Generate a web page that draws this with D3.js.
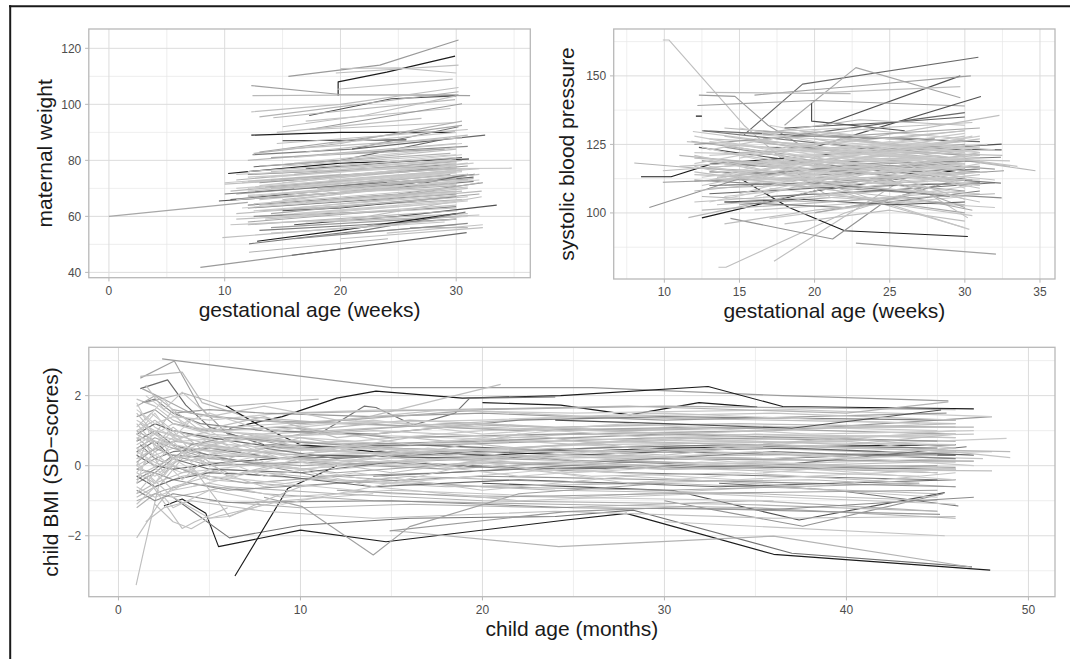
<!DOCTYPE html>
<html>
<head>
<meta charset="utf-8">
<script src="https://cdn.jsdelivr.net/npm/d3@7"></script>
<style>
  body { margin: 0; background: #fff; }
  text { font-family: "Liberation Sans", Arial, sans-serif; }
</style>
</head>
<body>
<svg id="fig" width="1070" height="659"></svg>
<script>
// ---- data: each trajectory = tone (group level, 0 dark .. 1 light) + flat list of x,y pairs ----
const weightXTicks = [0, 10, 20, 30];
const weightYTicks = [40, 60, 80, 100, 120];
const weightLines = [
  {g:.5, v:[15.5,110, 23.4,114, 30.2,123]},
  {g:0, v:[19.8,103, 19.8,108, 24,111.5, 29.9,117.2]},
  {g:.8, v:[19.6,111.2, 30.2,114]},
  {g:.85, v:[20,112.8, 25,113, 30,111.2]},
  {g:.55, v:[12.3,106.7, 20,103.5, 31.2,103.1]},
  {g:.75, v:[12.4,103.1, 30.2,103.5]},
  {g:.8, v:[19.7,105.4, 29.7,109]},
  {g:.8, v:[12.3,97.3, 20,100, 30.2,106]},
  {g:.1, v:[17.3,96, 24.4,102, 30,103]},
  {g:.75, v:[14.2,95.2, 29.9,101.7]},
  {g:.8, v:[15,92, 22,96, 30,103]},
  {g:.7, v:[13,95.5, 30.2,104.5]},
  {g:.85, v:[17,94, 29.5,98.5]},
  {g:.5, v:[17.3,91, 30.5,100.2]},
  {g:.8, v:[14.5,90, 27,95]},
  {g:0, v:[12.3,89, 20,90, 29.9,90]},
  {g:.05, v:[15,87, 25.7,87.3]},
  {g:.8, v:[17.5,91, 30,93.5]},
  {g:.7, v:[12.5,82.5, 20,86, 30.5,94]},
  {g:.3, v:[12.4,82, 21,84, 30.2,92]},
  {g:.6, v:[13,83, 30.5,92.5]},
  {g:.8, v:[14.5,86, 31,91]},
  {g:.2, v:[12.5,77.7, 20,80, 29.5,88]},
  {g:0, v:[10.3,75.3, 20,79, 31.1,80.5]},
  {g:.2, v:[21,84, 32.5,89]},
  {g:.4, v:[18,82, 31,85]},
  {g:.75, v:[12,80, 30,86]},
  {g:.8, v:[15,84, 30.5,88]},
  {g:.9, v:[16,79, 30,84.5]},
  {g:.6, v:[14,81, 29,84]},
  {g:.85, v:[24,77, 34.8,77.2]},
  {g:.8, v:[10,71.5, 20,74, 30,79]},
  {g:.7, v:[11,73, 30.5,80]},
  {g:.9, v:[12,74, 29,78]},
  {g:.5, v:[13,72, 22,75, 31,78]},
  {g:.85, v:[14,76, 30,80]},
  {g:.75, v:[10.5,69, 30,76]},
  {g:.6, v:[11,68, 20,71, 29.5,75]},
  {g:.3, v:[10,68, 30.5,74]},
  {g:.9, v:[12,70, 31,77]},
  {g:.8, v:[15,72, 30,77.5]},
  {g:.7, v:[16,75, 30,79.5]},
  {g:.2, v:[17,77, 30.5,81]},
  {g:.85, v:[13,66, 29,72]},
  {g:.1, v:[9.5,65.5, 20,68.5, 31.6,75]},
  {g:.4, v:[12,64, 25,68, 32.3,72]},
  {g:.2, v:[10.5,66, 31.5,74]},
  {g:.75, v:[12,67, 30,73.5]},
  {g:.8, v:[14,68, 30.5,74]},
  {g:.9, v:[16,70, 30,75.5]},
  {g:.65, v:[13.5,70.5, 29.5,76]},
  {g:.85, v:[11.5,72, 30,78]},
  {g:.55, v:[18,74, 30,77]},
  {g:.8, v:[17,65, 31,70]},
  {g:.3, v:[12,63, 30,68]},
  {g:.7, v:[13,62, 30.5,66]},
  {g:.8, v:[11,61, 29,66.5]},
  {g:.85, v:[12.5,64.5, 31,70.5]},
  {g:.1, v:[15,62, 20,63, 30,67]},
  {g:.6, v:[14,61, 32,68]},
  {g:.75, v:[16,63, 32.2,69]},
  {g:.9, v:[13,60, 30,65]},
  {g:.4, v:[12.5,60, 25,62, 30,63.5]},
  {g:.8, v:[11,59, 30,63]},
  {g:.1, v:[16,57, 25,60, 33.5,64]},
  {g:.7, v:[12,57, 30,62]},
  {g:.85, v:[10.5,57, 31,61]},
  {g:.5, v:[14,56, 30.5,60]},
  {g:.3, v:[13,55, 22,57, 30,59]},
  {g:.9, v:[17,58, 31,60]},
  {g:.8, v:[19,58, 32,60.5]},
  {g:0, v:[12.8,51.1, 20,55, 30,61]},
  {g:.3, v:[12.1,50.2, 22,55, 30.8,61.5]},
  {g:.8, v:[9.8,52.4, 30,59]},
  {g:.7, v:[12.1,47.2, 24.1,52]},
  {g:.5, v:[7.9,41.8, 21,48.9]},
  {g:.2, v:[15.8,46.1, 30.9,54.2]},
  {g:.85, v:[24,54, 32.3,57]},
  {g:.75, v:[26,56, 31,56]},
  {g:.6, v:[18,53, 30,57]},
  {g:.8, v:[20,52, 32.3,56]},
  {g:.6, v:[0,60, 12,65]},
  {g:.85, v:[14,54, 29,58]},
  {g:.4, v:[16,52, 31,57.5]},
  {g:.8, v:[21,59, 32.2,67]},
  {g:.7, v:[22,65, 32,72]},
  {g:.3, v:[22,69, 31.5,72.5]},
  {g:.8, v:[24,72, 32,75]},
  {g:.2, v:[25,70, 31,75]},
  {g:.85, v:[10,72, 20,75]},
  {g:.9, v:[20,73, 30.5,76]},
  {g:.7, v:[18,68, 30,71]},
  {g:.8, v:[19,66, 30,69]},
  {g:.6, v:[12,58, 24,62]},
  {g:.9, v:[11.5,63, 30,68.5]},
  {g:.75, v:[16,67, 31,73]},
  {g:.55, v:[14,73, 28,77]},
  {g:.85, v:[15,78, 30,82]},
  {g:.3, v:[12,75, 30,78.5]},
  {g:.7, v:[13,78, 29.5,82.5]},
  {g:.8, v:[20,80, 30,84]},
  {g:.9, v:[11,75, 25,77.5]},
  {g:.85, v:[12,69, 21,72, 30,76]},
  {g:.9, v:[13,71, 30,78.5]},
  {g:.8, v:[14,70, 31,75]},
  {g:.9, v:[16,73, 31.5,79]},
  {g:.85, v:[11,66, 30,71.5]},
  {g:.9, v:[12.5,62, 30,67.5]},
  {g:.8, v:[15,66, 30,72]},
  {g:.9, v:[17,71, 30.5,76.5]},
  {g:.85, v:[18,76, 30,80.5]},
  {g:.9, v:[14,74, 30,79]},
  {g:.8, v:[13,64, 30.5,69]},
  {g:.9, v:[15.5,68, 32,73]},
  {g:.85, v:[12,76, 30,81]},
  {g:.9, v:[16,81, 30.5,86]},
  {g:.8, v:[17,83, 31,89]},
  {g:.9, v:[19,86, 30,90]},
  {g:.85, v:[13.5,59, 30,64]},
  {g:.9, v:[15,60, 31,65.5]},
  {g:.8, v:[18,63, 31,67]},
  {g:.9, v:[20,69, 31,73]},
  {g:.85, v:[22,75, 31,79]},
  {g:.9, v:[20,78, 30.5,82]},
  {g:.8, v:[12,72.5, 30,77]},
  {g:.9, v:[11,70, 20,73, 29,75]},
  {g:.85, v:[14,65, 22,69, 30,70]},
  {g:.9, v:[16,61, 31,66]},
  {g:.7, v:[18,70, 31.5,73.5]},
  {g:.9, v:[12,67.5, 30.5,72.5]},
  {g:.85, v:[19,73, 32,77]},
  {g:.9, v:[15,76, 29.5,80]}
];

const bpXTicks = [10, 15, 20, 25, 30, 35];
const bpYTicks = [100, 125, 150];
const bpLines = [
  {g:.8, v:[9.9,163.1, 10.3,163.1, 15.3,132, 19.8,110, 21,106]},
  {g:.2, v:[15.3,128.5, 19.2,147, 30.9,156.8]},
  {g:.6, v:[18,132, 22.75,153, 29.7,142]},
  {g:.1, v:[20.6,132, 29.7,150]},
  {g:.55, v:[16,143, 21.1,145.5, 30.4,150]},
  {g:.8, v:[19.8,143.7, 29.7,146.1]},
  {g:.5, v:[12.3,143, 14.7,142.5, 16.9,132, 19,125]},
  {g:.75, v:[12.8,144, 22.4,143.5]},
  {g:.55, v:[12.2,139.2, 20,141, 30,139]},
  {g:.1, v:[19.8,140, 19.8,133.5, 26,130]},
  {g:.8, v:[17.3,82.4, 21.5,97, 26.4,114]},
  {g:.8, v:[13.6,80.2, 14.1,80.2, 22,100, 28,110]},
  {g:.55, v:[22.75,89, 32.07,85]},
  {g:0, v:[14.9,113, 18.3,102, 22,93.5, 30.2,91.4]},
  {g:.45, v:[14.4,98, 21.2,90.5, 24.9,105, 29.5,112]},
  {g:.45, v:[9,102, 15.3,113, 22,117]},
  {g:.7, v:[8,118.2, 12,116.4, 18,115]},
  {g:0, v:[8.45,113.2, 10.45,113.2, 13.1,117.8, 18,120]},
  {g:.75, v:[24,122, 28.6,120.2, 34.7,115.4]},
  {g:0, v:[12.1,135.3, 12.5,135.3]},
  {g:.1, v:[20,124, 31.07,142.5]},
  {g:.2, v:[17,127, 30,136.6]},
  {g:.8, v:[21,125, 32.3,135.6]},
  {g:.8, v:[19,112, 30,94.6]},
  {g:0, v:[12.5,98.2, 20,108, 30,116]},
  {g:.75, v:[11.6,98.3, 20,108, 30,120]},
  {g:.1, v:[20,121, 32.45,125.1]},
  {g:.15, v:[16,124, 32.45,123]},
  {g:.3, v:[18,118, 32.4,120.3]},
  {g:.5, v:[20,111, 32.6,115.4]},
  {g:.3, v:[14,118, 32.4,110.9]},
  {g:.4, v:[12,112, 32.45,105.5]},
  {g:.85, v:[11.9,129.7, 20,124, 30,118]},
  {g:.6, v:[11.8,126.1, 20,120, 30,113]},
  {g:.1, v:[12.3,123.9, 20,118, 30.5,112]},
  {g:.8, v:[12,120, 21,117, 31,121]},
  {g:.7, v:[12.4,116.4, 20,113, 30,110]},
  {g:.85, v:[12,111.5, 20,115, 30,119]},
  {g:.5, v:[9.9,111.2, 20,113, 30,108]},
  {g:.8, v:[9.9,115.4, 19,119, 30,116]},
  {g:.9, v:[13,130, 20,127, 29,124]},
  {g:.75, v:[14,131, 21,128, 30,122]},
  {g:.3, v:[12.5,130, 21,125, 30,121]},
  {g:.85, v:[15,129, 22,131, 30,127]},
  {g:.6, v:[16,126, 22,122, 30,125]},
  {g:.9, v:[13,121, 20,123, 30,126]},
  {g:.8, v:[14,117, 22,120, 30.5,123]},
  {g:.4, v:[12.5,119, 19,116, 30,118]},
  {g:.85, v:[15,114, 21,117, 30,114]},
  {g:.7, v:[13,109, 22,111, 30,115]},
  {g:.9, v:[14,106, 21,110, 29.5,113]},
  {g:.2, v:[13,107, 20,109, 31,111]},
  {g:.8, v:[12,104, 20,107, 30,103]},
  {g:.6, v:[15,103, 22,106, 30,100]},
  {g:.85, v:[16,101, 24,104, 30.5,99]},
  {g:.75, v:[12.5,101, 21,104, 30,108]},
  {g:.9, v:[17,98, 24,103, 30,106]},
  {g:.3, v:[14,104, 22,102, 31,108]},
  {g:.8, v:[18,96, 25,101, 30,97]},
  {g:.85, v:[16,108, 21,110, 30.3,94]},
  {g:.7, v:[13.5,113, 20,116, 31,117]},
  {g:.9, v:[12,122, 20,121, 30,118]},
  {g:.5, v:[14,124, 20,119, 31,115]},
  {g:.85, v:[11.5,126, 21,122, 31,119]},
  {g:.8, v:[13,127, 20,125, 30,130]},
  {g:.6, v:[16,130, 22,128, 31,131]},
  {g:.2, v:[12.6,130, 20,128, 31,126]},
  {g:.9, v:[17,132, 23,126, 30,122]},
  {g:.75, v:[15,122, 24,124, 33,117]},
  {g:.85, v:[18,120, 25,116, 32,112]},
  {g:.7, v:[11,121, 20,116, 30,112]},
  {g:.8, v:[12,114, 20,112, 31.5,115]},
  {g:.9, v:[14,110, 22,114, 30,117]},
  {g:.4, v:[16,114, 24,118, 31,119]},
  {g:.85, v:[13.5,103, 20,106, 32,102]},
  {g:.6, v:[18,110, 25,112, 30,102]},
  {g:.8, v:[20,106, 27,109, 30.2,98.2]},
  {g:.25, v:[17,106, 24,108, 32,111]},
  {g:.85, v:[15,118, 21,121, 31.5,125]},
  {g:.75, v:[12,108, 19,112, 28,107]},
  {g:.9, v:[19,118, 25,123, 31,128]},
  {g:.55, v:[21,115, 27,118, 32,116]},
  {g:.8, v:[14,128, 20,123, 32.5,121]},
  {g:.1, v:[14,104, 19,105, 25,103, 30,104]},
  {g:.8, v:[18,127, 24,131, 30.5,133]},
  {g:.9, v:[22,124, 28,119, 31,120]},
  {g:.35, v:[13,115, 21,114, 31,116]},
  {g:.85, v:[16,117, 25,120, 33,119]},
  {g:.7, v:[12.5,106, 20,104, 32,107]},
  {g:.8, v:[19,130, 25,127, 30,130]},
  {g:.9, v:[15,112, 23,109, 31,107]},
  {g:.6, v:[20,100, 26,106, 30.5,101]},
  {g:.85, v:[12,117, 16,112, 24,113, 31,112]},
  {g:.15, v:[18,131, 25,133, 30,135]},
  {g:.75, v:[16.5,129, 23,134, 30,132]},
  {g:.5, v:[12,125, 19,128, 28,127]},
  {g:.8, v:[14,96, 20,101, 26,104]},
  {g:.85, v:[22,118, 28,121, 33.5,117]},
  {g:.3, v:[13,110, 20,111, 29,106]},
  {g:.8, v:[11,117, 17,119, 25,114, 31,110]},
  {g:.9, v:[12,128, 20,120, 30,112]},
  {g:.85, v:[13,112, 21,121, 30,128]},
  {g:.9, v:[14,125, 22,116, 31,110]},
  {g:.85, v:[12.5,110, 20,118, 30,124]},
  {g:.9, v:[15,131, 22,124, 30,116]},
  {g:.8, v:[16,106, 23,115, 31,122]},
  {g:.9, v:[12,118, 19,125, 29.5,119]},
  {g:.85, v:[13,123, 20,130, 30,124]},
  {g:.9, v:[17,113, 24,121, 30.5,128]},
  {g:.85, v:[14,119, 22,114, 31,104]},
  {g:.9, v:[18,124, 26,118, 30,109]},
  {g:.8, v:[12,115, 20,109, 30,103]},
  {g:.9, v:[15,120, 21,126, 31,122]},
  {g:.85, v:[19,109, 25,116, 30,121]},
  {g:.9, v:[13,104, 21,113, 30,118]},
  {g:.85, v:[16,127, 24,121, 30,119]},
  {g:.9, v:[12.5,124, 20,115, 29,108]},
  {g:.8, v:[14,113, 20,119, 31,127]},
  {g:.9, v:[17,118, 23,124, 30,129]},
  {g:.85, v:[20,127, 26,121, 31,116]},
  {g:.9, v:[15,107, 22,117, 30,113]},
  {g:.85, v:[13,119, 21,111, 30,106]},
  {g:.9, v:[18,115, 24,111, 31,118]},
  {g:.8, v:[16,121, 22,127, 30.5,121]},
  {g:.9, v:[14,114, 19,121, 28,125, 31,122]},
  {g:.85, v:[12,121, 18,114, 26,119, 30,115]},
  {g:.9, v:[19,122, 25,126, 32,123]},
  {g:.85, v:[13,117, 20,110, 30,112]},
  {g:.9, v:[16,112, 24,116, 30,111]},
  {g:.8, v:[21,120, 27,113, 31,109]},
  {g:.9, v:[15,125, 23,119, 30,120]},
  {g:.85, v:[14,122, 20,117, 30,127]},
  {g:.9, v:[17,109, 24,105, 30.5,110]},
  {g:.85, v:[18,104, 24,110, 31,114]},
  {g:.9, v:[12.5,113, 21,119, 30,114]},
  {g:.8, v:[20,118, 26,112, 30,105]},
  {g:.9, v:[13,126, 22,121, 31,124]},
  {g:.85, v:[16,118, 21,113, 29,117]}
];

const bmiXTicks = [0, 10, 20, 30, 40, 50];
const bmiYTicks = [-2, 0, 2];
const bmiLines = [
  {g:.5, v:[2.4,3.05, 15,2.23, 26,2.23, 36.5,2.0, 45.6,1.85]},
  {g:0, v:[6.1,1.07, 9,1.4, 12,1.93, 14.15,2.13, 18.9,1.93, 24.3,2.0, 32.4,2.26, 36.5,1.69, 47,1.62]},
  {g:0, v:[2.5,-1.15, 3.5,-0.95, 4.8,-1.36, 5.5,-2.31, 10,-1.84, 14.7,-2.17, 24.6,-1.55, 27.9,-1.36, 36,-2.53, 47.9,-2.98]},
  {g:.25, v:[3,-0.9, 6.1,-2.06, 10,-1.7, 16,-1.5, 24,-1.45, 28.3,-1.27, 37,-2.5, 46.9,-2.89]},
  {g:0, v:[6.4,-3.15, 9.3,-0.65, 12,0.0]},
  {g:.8, v:[0.97,-3.41, 1.4,-2.4, 2.2,-0.6, 3.5,0.2, 6,0.4]},
  {g:.8, v:[1,-2.06, 2.2,-1.1, 3,-0.6, 5,-0.3]},
  {g:.55, v:[1.2,2.5, 3.07,2.99, 4.45,1.69, 6,0.9, 10,0.5, 18,0.6, 30,0.8, 46,0.7]},
  {g:.75, v:[1.2,2.55, 3.5,2.67, 4.6,1.8, 7,1.4, 12,1.2, 24,1.0, 36,1.1]},
  {g:.2, v:[1.2,2.2, 2.7,2.45, 3.7,1.73, 5,1.1, 8,0.6, 15,0.5, 25,0.3, 36,0.2, 46,0.4]},
  {g:.7, v:[1.5,1.8, 3.6,2.07, 5.9,1.69, 11,1.9]},
  {g:0, v:[5.9,1.71, 7.7,1.16, 10,0.6, 14,0.4, 20,0.3, 30,0.5, 46,0.6]},
  {g:.25, v:[11,0.9, 13.5,1.7, 14.15,1.66, 16.2,1.16, 18.5,1.5, 19.3,1.93, 24,1.96]},
  {g:0, v:[20,1.8, 24.3,1.73, 28.1,1.45, 31.9,1.8, 35.1,1.67]},
  {g:.8, v:[13,1.3, 21,2.32]},
  {g:.1, v:[20,-0.5, 30.5,-0.71, 37.4,-1.55, 45.4,-0.77]},
  {g:.45, v:[30,-1.0, 37.6,-1.73, 45.3,-0.8]},
  {g:.7, v:[15,-1.85, 24.2,-2.31, 36,-2.01, 46.9,-2.9]},
  {g:.85, v:[30,-1.6, 45.4,-2.0]},
  {g:.25, v:[33,-0.5, 39.4,-0.7, 46.15,-1.15]},
  {g:.8, v:[1,1.0, 2,1.3, 3,0.9, 5,0.6, 9,0.3, 14,0.5, 22,0.4, 30,0.6, 46,0.3]},
  {g:.6, v:[1,0.5, 2,0.8, 4,0.4, 7,0.1, 12,-0.2, 20,0.1, 30,-0.1, 45,0.0]},
  {g:.85, v:[1,0.2, 2.5,0.6, 4,0.9, 8,0.7, 15,0.6, 25,0.9, 36,0.8, 47,0.9]},
  {g:.4, v:[1,-0.4, 2,-0.1, 3,0.3, 6,0.2, 11,-0.3, 18,-0.2, 28,0.1, 45,-0.2]},
  {g:.9, v:[1.2,1.5, 2,1.1, 3.5,0.7, 6,0.8, 12,0.9, 24,0.7, 36,0.6, 46,1.0]},
  {g:.75, v:[1,-0.8, 2,-0.5, 3,0.0, 5,-0.4, 10,-0.6, 16,-0.3, 26,-0.5, 38,-0.4, 46,-0.6]},
  {g:.3, v:[1,0.7, 2,1.0, 3,0.6, 5,0.3, 10,0.2, 18,0.0, 28,-0.2, 45,-0.4]},
  {g:.8, v:[1,1.9, 2,1.7, 3,1.3, 4.5,1.0, 8,0.9, 15,1.1, 25,1.4, 36,1.3, 46,1.2]},
  {g:.65, v:[1,-1.0, 2.5,-0.7, 4,-0.5, 8,-0.8, 14,-1.0, 24,-1.1, 35,-1.2, 46,-1.5]},
  {g:.85, v:[1,0.0, 2,0.3, 3,0.5, 6,0.4, 12,0.7, 20,0.5, 30,0.2, 46,0.1]},
  {g:.2, v:[1,0.9, 2,1.2, 3,1.0, 5,0.8, 9,0.5, 16,0.6, 26,0.4, 37,0.5, 47,0.3]},
  {g:.75, v:[1.2,1.2, 2,0.9, 3.5,0.4, 6,-0.2, 11,-0.4, 18,-0.6, 30,-0.5, 45,-0.8]},
  {g:.9, v:[1,0.4, 2,0.1, 3.5,-0.2, 7,0.0, 14,0.2, 24,0.3, 33,0.0, 46,0.2]},
  {g:.5, v:[1,1.4, 2,1.6, 3,1.2, 5,1.0, 9,1.1, 15,0.8, 24,0.9, 36,1.0, 48,1.4]},
  {g:.8, v:[1,-0.2, 2,-0.5, 3,-0.3, 5,0.1, 10,-0.1, 17,0.2, 27,0.0, 44,-0.3]},
  {g:.35, v:[1.3,1.8, 2,1.9, 3,1.5, 4.5,1.2, 8,1.0, 14,0.9, 22,1.3, 30,1.4, 46,1.3]},
  {g:.85, v:[1,-0.6, 2,-0.9, 3,-0.7, 5,-0.5, 9,-0.9, 15,-0.7, 25,-0.9, 36,-0.6, 45,-0.9]},
  {g:.7, v:[1,0.8, 2,0.4, 3,0.7, 6,0.5, 10,0.9, 18,1.2, 28,1.0, 37,1.1, 47,1.1]},
  {g:.6, v:[1,-0.1, 2,0.2, 4,-0.2, 7,-0.5, 12,-0.3, 20,-0.6, 30,-0.7, 44,-0.5]},
  {g:.9, v:[1.5,2.0, 2.5,1.6, 4,1.1, 7,0.9, 13,0.7, 20,1.0, 30,1.2, 45,1.0]},
  {g:.15, v:[1,0.3, 2,0.0, 3,-0.1, 6,0.1, 11,0.3, 20,0.2, 30,0.4, 38,0.3, 46,0.3]},
  {g:.8, v:[1,1.1, 1.8,1.5, 3,1.0, 6,0.6, 12,0.4, 22,0.2, 35,0.3, 48,0.4]},
  {g:.7, v:[1,-1.2, 2,-0.8, 3,-0.9, 6,-0.6, 12,-0.8, 20,-1.0, 34,-1.1, 45,-1.3]},
  {g:.85, v:[1,0.6, 2,0.9, 3,1.2, 5,0.9, 10,0.7, 16,0.4, 26,0.6, 40,0.7, 49,0.23]},
  {g:.45, v:[1,-0.5, 2,-0.2, 3,-0.4, 6,-0.7, 12,-0.5, 20,-0.3, 30,-0.4, 46,-0.6]},
  {g:.9, v:[1,1.6, 2,1.2, 3,1.4, 5,1.3, 9,1.5, 15,1.6, 25,1.5, 37,1.6, 48,1.4]},
  {g:.55, v:[1,0.1, 2,0.5, 3,0.3, 5,0.0, 10,0.1, 18,-0.1, 28,0.2, 47,0.13]},
  {g:.8, v:[1,-0.3, 2.5,0.1, 4,0.5, 7,0.3, 14,0.0, 24,0.1, 36,-0.1, 48,-0.15]},
  {g:.3, v:[1.2,0.6, 2,0.2, 3,0.4, 5,0.5, 9,0.2, 16,0.3, 26,0.5, 34,0.6, 45,0.5]},
  {g:.85, v:[1,1.3, 2,1.0, 3.5,0.8, 6,1.1, 12,1.3, 20,1.1, 32,0.9, 46,0.8]},
  {g:.75, v:[1,-0.9, 2,-0.6, 3.5,-0.3, 6,-0.1, 12,-0.4, 24,-0.7, 35,-0.8, 45,-1.0]},
  {g:.6, v:[1.3,2.2, 2.5,1.9, 4,1.5, 7,1.3, 13,1.2, 22,1.0, 32,1.1, 46,0.9]},
  {g:.9, v:[1,0.0, 2,-0.3, 3,0.1, 6,0.3, 12,0.5, 24,0.4, 35,0.5, 48.8,0.78]},
  {g:.25, v:[1,0.4, 2,0.7, 3,0.2, 5,-0.1, 10,-0.2, 15,0.1, 24,-0.1, 36,0.0, 46.6,0.54]},
  {g:.8, v:[1.5,-1.6, 2.5,-1.2, 4,-1.0, 8,-1.3, 14,-1.5, 24,-1.3, 36,-1.5, 46,-1.45]},
  {g:.85, v:[2,0.9, 4,0.6, 8,0.8, 14,1.0, 22,0.8, 32,0.7, 46,0.6]},
  {g:.5, v:[3,1.5, 5,1.6, 8,1.5, 14,1.4, 20,1.5, 30,1.3, 45.5,1.5]},
  {g:.7, v:[5,-1.0, 10,-1.2, 16,-1.1, 24,-1.2, 35,-1.0, 45,-1.3]},
  {g:.4, v:[1,-0.7, 2,-1.0, 3,-0.8, 6,-1.05, 15,-1.0, 25,-1.2, 36,-1.25, 47,-0.9]},
  {g:.9, v:[1,0.5, 2,0.3, 3,0.0, 5,-0.3, 9,-0.5, 15,-0.8, 24,-0.9, 36,-1.0]},
  {g:.65, v:[1,1.7, 2,2.0, 3,1.6, 5,1.4, 10,1.2, 20,1.6, 30,1.7, 46,1.6]},
  {g:.75, v:[1,0.9, 2,0.6, 3,0.2, 5,0.5, 10,0.3, 18,0.4, 28,0.7, 40,0.5, 49,0.4]},
  {g:.2, v:[1,-0.3, 2,-0.6, 3,-0.4, 5,-0.2, 9,-0.3, 14,-0.6, 22,-0.4, 33,-0.6, 46,-0.4]},
  {g:.85, v:[1,0.2, 2,0.5, 3,0.8, 4,0.6, 8,0.4, 14,0.6, 22,0.7, 32,0.4, 47.5,0.2]},
  {g:.6, v:[1,1.0, 2,0.7, 3,0.5, 5,0.2, 10,0.0, 20,0.2, 30,0.1, 46,-0.05]},
  {g:.8, v:[2,-1.1, 3,-1.6, 4,-1.8, 5,-1.5, 9,-1.0, 14,-0.8]},
  {g:.85, v:[1.5,-0.2, 3,-0.9, 5,-1.5, 6,-1.45, 8,-1.1]},
  {g:.5, v:[1,-0.1, 2,-0.2, 4,0.6, 6,0.8, 12,0.6, 20,0.7, 30,0.9, 45,0.7]},
  {g:.9, v:[1,0.8, 3,0.6, 6,0.3, 14,0.1, 24,0.3, 36,0.2, 46,0.5]},
  {g:.35, v:[8,0.5, 12,0.2, 18,0.4, 26,0.1, 36,0.4, 46,0.2]},
  {g:.75, v:[10,1.0, 16,1.3, 24,1.1, 34,1.2, 46,1.1]},
  {g:.8, v:[20,0.0, 26,-0.3, 34,-0.2, 44,-0.5]},
  {g:.3, v:[14,-0.3, 22,-0.1, 30,0.0, 46,-0.1]},
  {g:.85, v:[8,0.6, 15,0.3, 25,0.6, 35,0.9, 46,0.8]},
  {g:.55, v:[12,-0.7, 20,-0.9, 30,-0.8, 45,-0.7]},
  {g:.9, v:[6,1.0, 11,1.2, 20,1.3, 30,1.5, 44,1.2]},
  {g:.7, v:[10,1.5, 18,1.6, 28,1.7, 40,1.5, 45.6,1.82]},
  {g:.1, v:[24,1.3, 30,1.2, 37,1.07, 45.2,1.59]},
  {g:.5, v:[14.9,-1.86, 24.6,-1.31, 30,-1.2, 45.14,-1.39]},
  {g:.55, v:[8,-0.9, 10.1,-1.17, 14,-2.55, 16,-1.74, 22,-0.8, 30,-0.5]},
  {g:.8, v:[1.5,-0.3, 3.5,-1.79, 4.2,-1.6, 6,-1.2]},
  {g:.8, v:[4,0, 6.1,-1.46, 8,-1.0, 10,-0.6]},
  {g:.85, v:[1,0.7, 1.5,1.2, 2,0.5, 3,1.0, 4,0.4, 6,0.7, 9,0.2, 13,0.6, 18,0.3, 24,0.5, 30,0.3, 36,0.6, 46,0.4]},
  {g:.9, v:[1,-0.5, 1.5,0.2, 2.5,-0.3, 3.5,0.4, 5,0.0, 8,0.3, 12,-0.1, 18,0.2, 25,-0.2, 35,0.1, 46,-0.1]},
  {g:.8, v:[1,1.2, 2,0.6, 3,1.1, 4.5,0.5, 7,0.9, 11,0.4, 16,0.8, 22,0.5, 30,0.8, 40,0.6, 46,0.9]},
  {g:.9, v:[1,0.3, 2,1.0, 3,0.2, 5,0.8, 8,0.1, 12,0.5, 18,0.0, 26,0.4, 34,0.1, 45,0.3]},
  {g:.85, v:[1,-0.8, 2,-0.2, 3,-0.7, 5,-0.1, 8,-0.6, 13,-0.2, 20,-0.7, 28,-0.3, 38,-0.6, 46,-0.2]},
  {g:.9, v:[1,1.8, 1.5,1.3, 2.5,1.9, 3.5,1.2, 5,1.5, 8,1.0, 14,1.3, 20,0.9, 28,1.2, 38,0.9, 47,1.0]},
  {g:.8, v:[1,0.0, 1.5,0.6, 2.5,-0.2, 4,0.5, 6,-0.3, 10,0.2, 15,-0.2, 22,0.3, 30,-0.1, 44,0.1]},
  {g:.9, v:[1,0.9, 2,1.5, 3,0.8, 4,1.3, 6,0.7, 10,1.1, 16,0.6, 24,1.0, 32,0.7, 46,0.9]},
  {g:.85, v:[1,-1.1, 2,-0.6, 3,-1.2, 5,-0.7, 9,-1.1, 14,-0.6, 22,-1.0, 32,-0.8, 46,-1.1]},
  {g:.9, v:[1,0.5, 2,0.0, 3,0.7, 4,0.1, 7,0.6, 11,0.0, 17,0.5, 25,0.1, 35,0.4, 47,0.0]},
  {g:.8, v:[1,1.5, 2,0.9, 3,1.6, 4.5,1.0, 8,1.4, 12,0.8, 20,1.2, 30,0.9, 46,1.2]},
  {g:.9, v:[1,-0.2, 2,0.4, 3.5,-0.4, 5,0.3, 8,-0.3, 14,0.2, 22,-0.3, 32,0.1, 45,-0.2]},
  {g:.85, v:[1.5,2.3, 2.5,1.6, 3.5,2.1, 5,1.4, 8,1.7, 12,1.3, 18,1.6, 26,1.4, 36,1.5, 46,1.3]},
  {g:.9, v:[1,0.1, 2,-0.5, 3,0.2, 5,-0.4, 9,0.0, 15,-0.5, 24,-0.1, 34,-0.4, 46,-0.1]},
  {g:.8, v:[6,0.2, 10,0.8, 16,0.3, 22,0.9, 30,0.4, 40,0.8, 46,0.5]},
  {g:.9, v:[4,-0.6, 9,0.0, 14,-0.6, 20,0.1, 28,-0.5, 38,-0.1, 46,-0.4]}
];

// ---- drawing ----
const svg = d3.select('#fig');
const greyRamp = d3.interpolateRgb('#1c1c1c', '#d4d4d4');
const tone = g => greyRamp(Math.pow(g, 0.55));
const fmt = d3.format('');

// outer frame (left + top rules)
svg.append('line').attr('x1', 9).attr('x2', 1070).attr('y1', 6.2).attr('y2', 6.2)
  .attr('stroke', '#1a1a1a').attr('stroke-width', 2);
svg.append('line').attr('x1', 10.2).attr('x2', 10.2).attr('y1', 5.2).attr('y2', 659)
  .attr('stroke', '#1a1a1a').attr('stroke-width', 2);

function minorOf(ticks, domain) {
  const step = ticks[1] - ticks[0];
  const out = [];
  for (let v = ticks[0] - step / 2; v <= domain[1]; v += step) if (v >= domain[0]) out.push(v);
  return out;
}

function panel(id, box, xDom, yDom, xTicks, yTicks, lines, xTitle, yTitle, yTitleX, xTitleY) {
  const x = d3.scaleLinear().domain(xDom).range([box.x0, box.x1]);
  const y = d3.scaleLinear().domain(yDom).range([box.y1, box.y0]);
  const g = svg.append('g');

  g.append('clipPath').attr('id', id).append('rect')
    .attr('x', box.x0).attr('y', box.y0).attr('width', box.x1 - box.x0).attr('height', box.y1 - box.y0);

  // grid
  g.selectAll('.gxm').data(minorOf(xTicks, xDom)).enter().append('line')
    .attr('x1', d => x(d)).attr('x2', d => x(d)).attr('y1', box.y0).attr('y2', box.y1)
    .attr('stroke', '#e6e6e6').attr('stroke-width', 0.7);
  g.selectAll('.gym').data(minorOf(yTicks, yDom)).enter().append('line')
    .attr('y1', d => y(d)).attr('y2', d => y(d)).attr('x1', box.x0).attr('x2', box.x1)
    .attr('stroke', '#e6e6e6').attr('stroke-width', 0.7);
  g.selectAll('.gx').data(xTicks).enter().append('line')
    .attr('x1', d => x(d)).attr('x2', d => x(d)).attr('y1', box.y0).attr('y2', box.y1)
    .attr('stroke', '#dcdcdc').attr('stroke-width', 1);
  g.selectAll('.gy').data(yTicks).enter().append('line')
    .attr('y1', d => y(d)).attr('y2', d => y(d)).attr('x1', box.x0).attr('x2', box.x1)
    .attr('stroke', '#dcdcdc').attr('stroke-width', 1);

  // trajectories
  const line = d3.line().x(d => x(d[0])).y(d => y(d[1]));
  g.append('g').attr('clip-path', `url(#${id})`)
    .selectAll('path').data(lines).enter().append('path')
    .attr('d', d => line(d3.range(0, d.v.length, 2).map(i => [d.v[i], d.v[i + 1]])))
    .attr('fill', 'none').attr('stroke', d => tone(d.g))
    .attr('stroke-width', 1.15).attr('stroke-linejoin', 'round');

  // border
  g.append('rect').attr('x', box.x0).attr('y', box.y0)
    .attr('width', box.x1 - box.x0).attr('height', box.y1 - box.y0)
    .attr('fill', 'none').attr('stroke', '#b8b8b8').attr('stroke-width', 1.3);

  // ticks + labels
  g.selectAll('.tx').data(xTicks).enter().append('line')
    .attr('x1', d => x(d)).attr('x2', d => x(d)).attr('y1', box.y1).attr('y2', box.y1 + 3.7)
    .attr('stroke', '#b8b8b8').attr('stroke-width', 1);
  g.selectAll('.ty').data(yTicks).enter().append('line')
    .attr('y1', d => y(d)).attr('y2', d => y(d)).attr('x1', box.x0 - 3.7).attr('x2', box.x0)
    .attr('stroke', '#b8b8b8').attr('stroke-width', 1);
  g.selectAll('.lx').data(xTicks).enter().append('text')
    .attr('x', d => x(d)).attr('y', box.y1 + 17).attr('text-anchor', 'middle')
    .attr('font-size', 12).attr('fill', '#4d4d4d').text(fmt);
  g.selectAll('.ly').data(yTicks).enter().append('text')
    .attr('x', box.x0 - 7.5).attr('y', d => y(d)).attr('dy', '0.36em').attr('text-anchor', 'end')
    .attr('font-size', 12).attr('fill', '#4d4d4d').text(fmt);

  // titles
  g.append('text').attr('x', (box.x0 + box.x1) / 2).attr('y', xTitleY)
    .attr('text-anchor', 'middle').attr('font-size', 21).attr('fill', '#1a1a1a').text(xTitle);
  g.append('text')
    .attr('transform', `translate(${yTitleX},${(box.y0 + box.y1) / 2}) rotate(-90)`)
    .attr('text-anchor', 'middle').attr('font-size', 21).attr('fill', '#1a1a1a').text(yTitle);
}

panel('clipW', {x0: 88.8, x1: 530.3, y0: 29, y1: 277.7}, [-1.74, 36.4], [38.1, 126.9],
  weightXTicks, weightYTicks, weightLines, 'gestational age (weeks)', 'maternal weight', 51.5, 317);
panel('clipB', {x0: 613.7, x1: 1055, y0: 29, y1: 279}, [6.63, 36.0], [75.9, 167.1],
  bpXTicks, bpYTicks, bpLines, 'gestational age (weeks)', 'systolic blood pressure', 574, 318);
panel('clipC', {x0: 88.8, x1: 1055, y0: 347.3, y1: 596.7}, [-1.63, 51.46], [-3.74, 3.38],
  bmiXTicks, bmiYTicks, bmiLines, 'child age (months)', 'child BMI (SD\u2212scores)', 58, 636);
</script>
</body>
</html>
